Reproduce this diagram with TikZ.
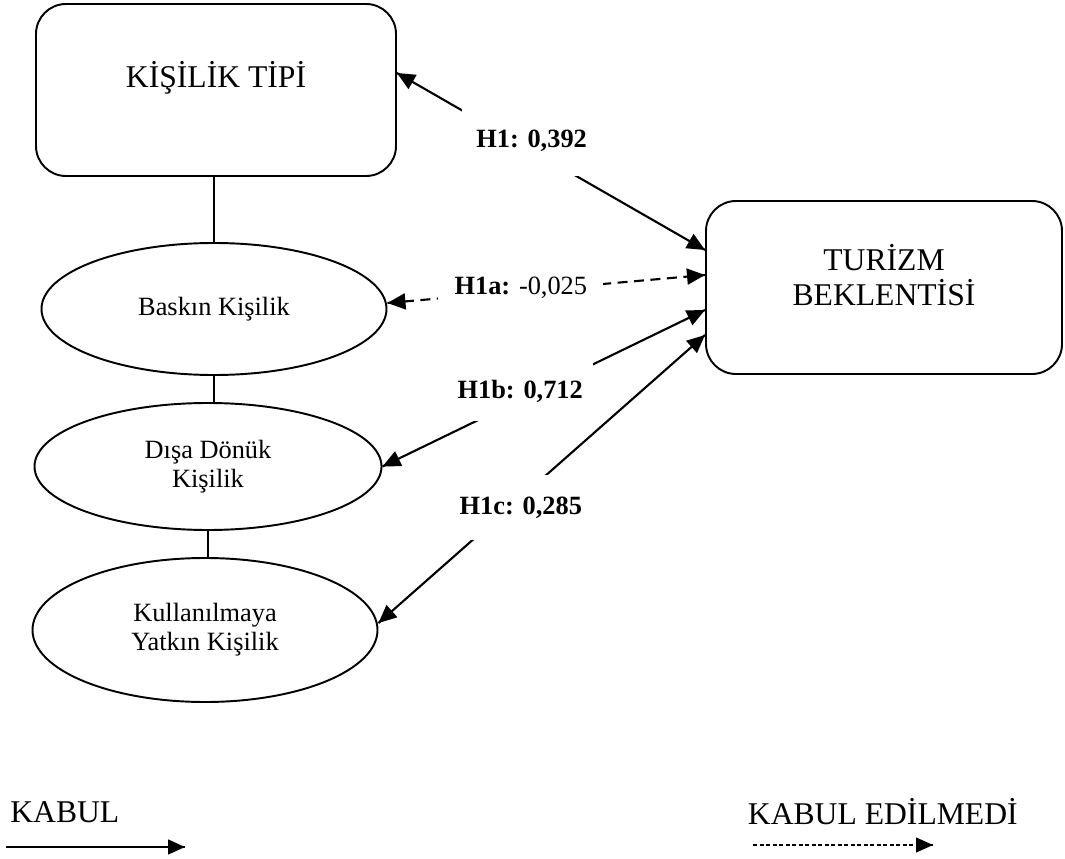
\documentclass[tikz,border=0pt]{standalone}
\usepackage{fontspec}
\setmainfont{Liberation Serif}
\usetikzlibrary{arrows.meta,decorations.markings,shapes.geometric}
\tikzstyle{bigbox} = [rectangle, rounded corners=0.6cm, minimum width=7.2cm, minimum height=3.44cm, draw=black, line width=1.1pt]
\tikzstyle{trait} = [ellipse, minimum width=6.9cm, minimum height=2.64cm, inner sep=0pt, align=center, draw=black, line width=1.1pt, font=\fontsize{15}{16.5}\selectfont]
\tikzstyle{coef} = [fill=white, inner sep=0pt, minimum width=2.8cm, minimum height=1.2cm, font=\fontsize{15}{18}\selectfont]
\tikzstyle{bigtext} = [inner sep=0pt, align=center, font=\fontsize{18}{19.5}\selectfont]

\begin{document}
\begin{tikzpicture}[node distance=3.2cm]
    \tikzset{myptr/.style={decoration={markings,mark=at position 1 with %
    {\arrow{Triangle[length=0.34cm,width=0.3cm]}}},postaction={decorate}}}
    \tikzset{mybiptr/.style={line width=1.2pt, decoration={markings,%
    mark=at position 0 with {\arrowreversed{Triangle[length=0.36cm,width=0.32cm]}},%
    mark=at position 1 with {\arrow{Triangle[length=0.36cm,width=0.32cm]}}},postaction={decorate}}}
\useasboundingbox (0,0) rectangle (21.3,-17.18);
\node (kisilik) [bigbox, label={[bigtext, yshift=0.24cm]center:KİŞİLİK TİPİ}] at (4.32,-1.8) {};
\node (baskin) [trait, below of=kisilik, xshift=-0.04cm, yshift=-1.18cm] {Baskın Kişilik};
\node (disa) [trait, minimum width=6.94cm, minimum height=2.54cm, below of=baskin, xshift=-0.12cm, yshift=0.05cm] {Dışa Dönük\\Kişilik};
\node (kullan) [trait, minimum height=2.88cm, below of=disa, xshift=-0.06cm, yshift=-0.07cm] {Kullanılmaya\\Yatkın Kişilik};
\node (turizm) [bigbox, minimum width=7.12cm, minimum height=3.46cm, right of=kisilik, xshift=10.16cm, yshift=-3.95cm, label={[bigtext, yshift=0.25cm]center:TURİZM\\BEKLENTİSİ}] {};

\draw [line width=0.6pt] (baskin.north) -- (baskin.north |- kisilik.south);
\draw [line width=0.6pt] (baskin.south) -- (baskin.south |- disa.north);
\draw [line width=0.6pt] (disa.south) -- (disa.south |- kullan.north);

\draw [mybiptr] ([yshift=0.34cm]kisilik.east) -- node[coef, pos=0.437, yshift=0.19cm, minimum height=1.4cm] {\textbf{H1: 0,392}} ([yshift=0.75cm]turizm.west);
\draw [mybiptr, dash pattern=on 0.2cm off 0.13cm] ([yshift=0.12cm]baskin.east) -- node[coef, pos=0.42, yshift=0.06cm, minimum width=3.3cm, minimum height=1cm] {\textbf{H1a:} -0,025} ([yshift=0.25cm]turizm.west);
\draw [mybiptr] (disa.east) -- node[coef, pos=0.427, yshift=0.17cm, minimum width=2.9cm, minimum height=1.18cm] {\textbf{H1b: 0,712}} ([yshift=-0.45cm]turizm.west);
\draw [mybiptr] ([yshift=0.14cm]kullan.east) -- node[coef, pos=0.436, yshift=-0.21cm, minimum width=2.9cm, minimum height=1.3cm] {\textbf{H1c: 0,285}} ([yshift=-0.95cm]turizm.west);

% legend
\node (kabul) [bigtext, anchor=west] at (0.2,-16.24) {KABUL};
\node (kabulno) [bigtext, anchor=east] at (20.36,-16.24) {KABUL EDİLMEDİ};
\coordinate (yesA) at (0.12,-16.94);
\coordinate (yesB) at (3.7,-16.94);
\coordinate (noA) at (15.06,-16.9);
\coordinate (noB) at (18.66,-16.9);
\draw [myptr, line width=0.9pt] (yesA) -- (yesB);
\draw [myptr, line width=0.6pt, dash pattern=on 0.08cm off 0.05cm] (noA) -- (noB);
\end{tikzpicture}
\end{document}
